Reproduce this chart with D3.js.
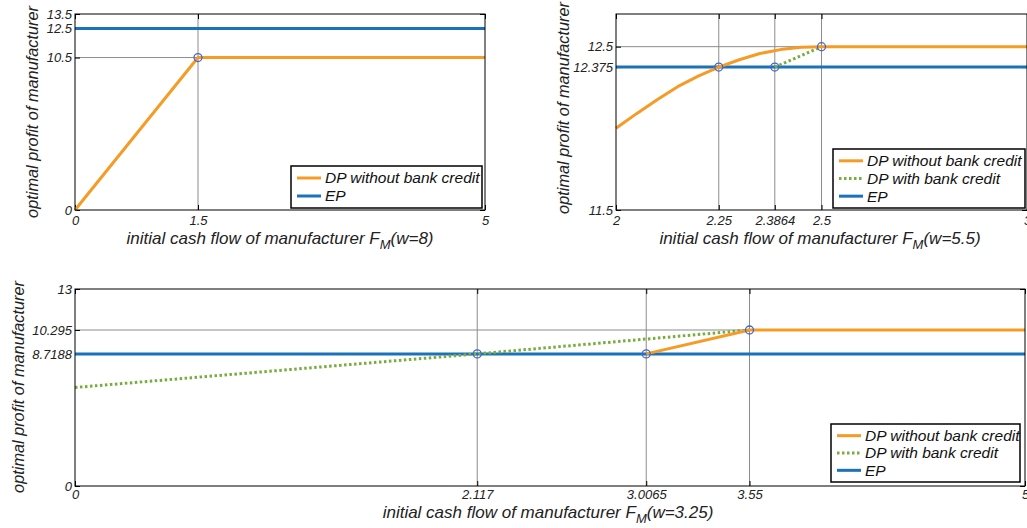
<!DOCTYPE html>
<html lang="en">
<head>
<meta charset="UTF-8">
<title>optimal profit of manufacturer</title>
<script src="https://d3js.org/d3.v7.min.js"></script>
<style>
  body { margin: 0; background: #fff; }
  svg { display: block; font-family: "Liberation Sans", Arial, sans-serif; font-style: italic; }
  .tick text { font-size: 13px; fill: #222; font-family: "Liberation Sans", Arial, sans-serif; font-style: italic; }
  .tick line { stroke: #000; }
  .grid { stroke: #8c8c8c; stroke-width: 1; }
  .frame { fill: none; stroke: #000; stroke-width: 1; }
  .axis-title { font-size: 17px; fill: #222; }
  .y-title { font-size: 16.3px; }
  .legend text { font-size: 15.5px; fill: #111; }
</style>
</head>
<body>
<svg width="1027" height="528"></svg>
<script>
// panel a: w = 8
const aXTicks = [0, 1.5, 5];
const aYTicks = [0, 10.5, 12.5, 13.5];
const aNoCredit = [[0, 0], [1.5, 10.5], [5, 10.5]];
const aEP = 12.5;
const aMarks = [[1.5, 10.5]];

// panel b: w = 5.5
const bXTicks = [2, 2.25, 2.3864, 2.5, 3];
const bYTicks = [11.5, 12.375, 12.5];
const bNoCredit = [[2, 12.0], [2.05, 12.09], [2.1, 12.175], [2.15, 12.255], [2.2, 12.32],
  [2.25, 12.375], [2.3, 12.42], [2.35, 12.458], [2.4, 12.482], [2.45, 12.496], [2.5, 12.5], [3, 12.5]];
const bCredit = [[2.3864, 12.375], [2.5, 12.5]];
const bEP = 12.375;
const bMarks = [[2.25, 12.375], [2.3864, 12.375], [2.5, 12.5]];

// panel c: w = 3.25
const cXTicks = [0, 2.117, 3.0065, 3.55, 5];
const cYTicks = [0, 8.7188, 10.295, 13];
const cNoCredit = [[3.0065, 8.7188], [3.55, 10.295], [5, 10.295]];
const cCredit = [[0, 6.5], [2.117, 8.7188], [3.55, 10.295]];
const cEP = 8.7188;
const cMarks = [[2.117, 8.7188], [3.0065, 8.7188], [3.55, 10.295]];

const orange = "#f59b26", blue = "#1b72ba", green = "#78ad3c";

const svg = d3.select("svg");

const panels = [
  { left: 75, right: 485, top: 14, bottom: 210, xDomain: [0, 5], yDomain: [0, 13.5],
    xTicks: aXTicks, yTicks: aYTicks, noCredit: aNoCredit, credit: null, ep: aEP, marks: aMarks,
    w: "8", xTitle: [280, 244], yTitle: [38, 112], legend: [291, 166, 191, 42], pad: 6 },
  { left: 616, right: 1027, top: 14, bottom: 210, xDomain: [2, 3], yDomain: [11.5, 12.7],
    xTicks: bXTicks, yTicks: bYTicks, noCredit: bNoCredit, credit: bCredit, ep: bEP, marks: bMarks,
    w: "5.5", xTitle: [820, 244], yTitle: [569, 108], legend: [833, 149, 192, 59], pad: 6 },
  { left: 75, right: 1025, top: 289, bottom: 486, xDomain: [0, 5], yDomain: [0, 13],
    xTicks: cXTicks, yTicks: cYTicks, noCredit: cNoCredit, credit: cCredit, ep: cEP, marks: cMarks,
    w: "3.25", xTitle: [548, 518], yTitle: [24, 387], legend: [831, 424, 189, 58], pad: 4 }
];

panels.forEach(drawPanel);

function drawPanel(p) {
  const x = d3.scaleLinear().domain(p.xDomain).range([p.left, p.right]);
  const y = d3.scaleLinear().domain(p.yDomain).range([p.bottom, p.top]);
  const g = svg.append("g");
  const fmt = d => String(d);

  // grid lines at the marked values
  g.selectAll(".vgrid")
    .data(p.xTicks.filter(t => t > p.xDomain[0] && t < p.xDomain[1]))
    .join("line").attr("class", "grid vgrid")
    .attr("x1", x).attr("x2", x).attr("y1", p.top).attr("y2", p.bottom);
  g.selectAll(".hgrid")
    .data(p.yTicks.filter(t => t > p.yDomain[0] && t < p.yDomain[1]))
    .join("line").attr("class", "grid hgrid")
    .attr("x1", p.left).attr("x2", p.right).attr("y1", y).attr("y2", y);

  // axes, matlab style ticks pointing inward
  g.append("g").attr("transform", `translate(0,${p.bottom})`)
    .call(d3.axisBottom(x).tickValues(p.xTicks).tickFormat(fmt).tickSizeInner(-5).tickSizeOuter(0).tickPadding(p.pad));
  g.append("g").attr("transform", `translate(0,${p.top})`)
    .call(d3.axisTop(x).tickValues(p.xTicks).tickFormat("").tickSizeInner(-5).tickSizeOuter(0));
  g.append("g").attr("transform", `translate(${p.left},0)`)
    .call(d3.axisLeft(y).tickValues(p.yTicks).tickFormat(fmt).tickSizeInner(-5).tickSizeOuter(0).tickPadding(3));
  g.append("g").attr("transform", `translate(${p.right},0)`)
    .call(d3.axisRight(y).tickValues(p.yTicks).tickFormat("").tickSizeInner(-5).tickSizeOuter(0));
  g.selectAll(".domain").remove();

  const line = d3.line().x(d => x(d[0])).y(d => y(d[1]));

  g.append("path").datum([[p.xDomain[0], p.ep], [p.xDomain[1], p.ep]])
    .attr("d", line).attr("fill", "none").attr("stroke", blue).attr("stroke-width", 3);
  if (p.credit) {
    g.append("path").datum(p.credit)
      .attr("d", line).attr("fill", "none").attr("stroke", green).attr("stroke-width", 3)
      .attr("stroke-dasharray", "2.5,2.5");
  }
  g.append("path").datum(p.noCredit)
    .attr("d", line).attr("fill", "none").attr("stroke", orange).attr("stroke-width", 3)
    .attr("stroke-linejoin", "round");

  g.selectAll(".mark").data(p.marks).join("circle").attr("class", "mark")
    .attr("cx", d => x(d[0])).attr("cy", d => y(d[1])).attr("r", 4)
    .attr("fill", "none").attr("stroke", "#4565cc").attr("stroke-width", 1.3);

  g.append("rect").attr("class", "frame")
    .attr("x", p.left).attr("y", p.top)
    .attr("width", p.right - p.left).attr("height", p.bottom - p.top);

  // axis titles
  const xt = g.append("text").attr("class", "axis-title")
    .attr("x", p.xTitle[0]).attr("y", p.xTitle[1]).attr("text-anchor", "middle");
  xt.append("tspan").text("initial cash flow of manufacturer F");
  xt.append("tspan").attr("dy", 5).attr("font-size", 13).text("M");
  xt.append("tspan").attr("dy", -5).text(`(w=${p.w})`);

  g.append("text").attr("class", "axis-title y-title")
    .attr("transform", `translate(${p.yTitle[0]},${p.yTitle[1]}) rotate(-90)`)
    .attr("text-anchor", "middle").text("optimal profit of manufacturer");

  // legend
  const items = [{ label: "DP without bank credit", color: orange, dash: null }];
  if (p.credit) items.push({ label: "DP with bank credit", color: green, dash: "2.5,2.5" });
  items.push({ label: "EP", color: blue, dash: null });

  const [lx, ly, lw, lh] = p.legend;
  const lg = g.append("g").attr("class", "legend");
  lg.append("rect").attr("x", lx).attr("y", ly).attr("width", lw).attr("height", lh)
    .attr("fill", "#fff").attr("stroke", "#000").attr("stroke-width", 1.5);
  const rowH = (lh - 6) / items.length;
  items.forEach((it, i) => {
    const cy = ly + 3 + rowH * (i + 0.5);
    lg.append("line").attr("x1", lx + 6).attr("x2", lx + 30).attr("y1", cy).attr("y2", cy)
      .attr("stroke", it.color).attr("stroke-width", 3).attr("stroke-dasharray", it.dash);
    lg.append("text").attr("x", lx + 34).attr("y", cy).attr("dy", "0.35em").text(it.label);
  });
}
</script>
</body>
</html>
